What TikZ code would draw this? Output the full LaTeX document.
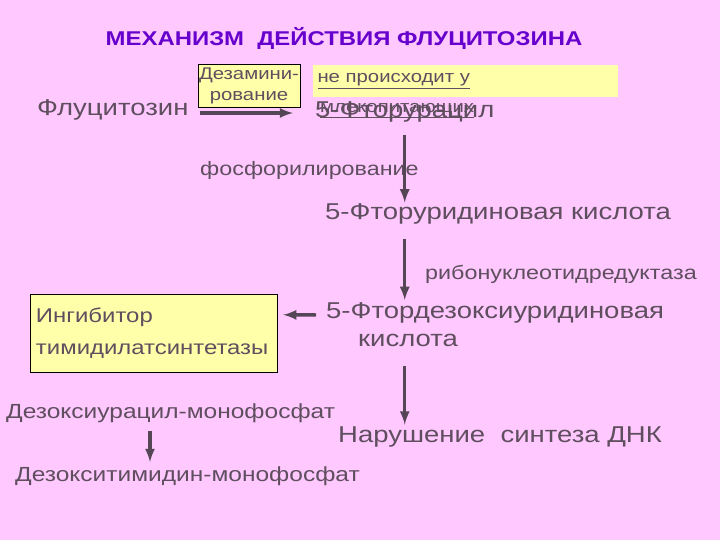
\documentclass[tikz,border=0pt]{standalone}
\usepackage{fontspec}
\setmainfont{Liberation Sans}[FakeStretch=1.2]
\usepackage{tikz}
\usetikzlibrary{arrows,positioning}
\definecolor{fon}{RGB}{255,200,255}
\definecolor{tekst}{RGB}{94,78,94}
\definecolor{zhelt}{RGB}{255,255,170}
\definecolor{zagl}{RGB}{102,0,204}
\tikzstyle{edge}=[-latex, line width=3.5pt, draw=tekst!90!black]

\begin{document}
\begin{tikzpicture}[x=1bp,y=-1bp,
    big/.style={text=tekst,font=\fontsize{23}{27}\selectfont,inner sep=0pt},
    mid/.style={text=tekst,font=\fontsize{19.5}{23}\selectfont,inner sep=0pt},
    box/.style={draw=black,fill=zhelt,thin,text=tekst,font=\fontsize{18}{22}\selectfont}]
  \fill[fon] (0,0) rectangle (720,540);
  \useasboundingbox (0,0) rectangle (720,540);
  \node [text=zagl,font=\bfseries\fontsize{20}{24}\selectfont] (title) at (344,38) {МЕХАНИЗМ\ \ ДЕЙСТВИЯ ФЛУЦИТОЗИНА};

  % first step
  \node [big,anchor=west] (fluc) at (37,110) {Флуцитозин};
  \node [box,minimum width=102bp,minimum height=43bp,inner sep=1pt,align=center,
         font=\fontsize{17}{21}\selectfont] (dez) at (249,86) {Дезамини-\\рование};
  \node [fill=zhelt,minimum width=305bp,minimum height=32bp,text width=295bp,
         align=left,inner sep=5pt,text=tekst,font=\fontsize{17}{20}\selectfont] (ne) at (465,81) {\underline{не происходит у}};
  \node [big,anchor=west] (fu) at (315,112) {5-Фторурацил};
  \node [mid,anchor=west,font=\fontsize{17}{20}\selectfont] (mlek) at (320,111) {\underline{млекопитающих}};

  % main chain
  \node [mid,anchor=west] (fosf) at (200,170) {фосфорилирование};
  \node [big,anchor=west] (fur) at (325,214) {5-Фторуридиновая кислота};
  \node [mid,anchor=west] (ribo) at (425,274) {рибонуклеотидредуктаза};
  \node [big,anchor=north west,align=left] (fdu) at (326,302) {5-Фтордезоксиуридиновая\\[2pt]\hspace*{32bp}кислота};
  \node [box,minimum width=247bp,minimum height=78bp,text width=235bp,align=left,
         font=\fontsize{20}{32}\selectfont] (ingib) at (153.5,333) {Ингибитор\\тимидилатсинтетазы};
  \node [big,anchor=west] (nar) at (338,437) {Нарушение\ \ синтеза ДНК};

  % left branch
  \node [mid,anchor=west,font=\fontsize{20.5}{24}\selectfont] (dump) at (6,413) {Дезоксиурацил-монофосфат};
  \node [mid,anchor=west,font=\fontsize{20.5}{24}\selectfont] (dtmp) at (15,476) {Дезокситимидин-монофосфат};

  \draw [edge] ([shift={(11,3)}]fluc.east) -- ([shift={(-22,1)}]fu.west);
  \draw [edge,shorten <=12bp,shorten >=1bp] (fu.south) -- (fu.south |- fur.north);
  \draw [edge,shorten <=14bp,shorten >=2bp] (fu.south |- fur.south) -- (fu.south |- fdu.north);
  \draw [edge,shorten <=19bp,shorten >=2bp] (fu.south |- fdu.south) -- (fu.south |- nar.north);
  \draw [edge] ([shift={(-10,13)}]fdu.north west) -- ([shift={(6,21)}]ingib.north east);
  \draw [edge] ([shift={(144,18)}]dump.west) -- ([shift={(135,-14)}]dtmp.west);
\end{tikzpicture}
\end{document}
